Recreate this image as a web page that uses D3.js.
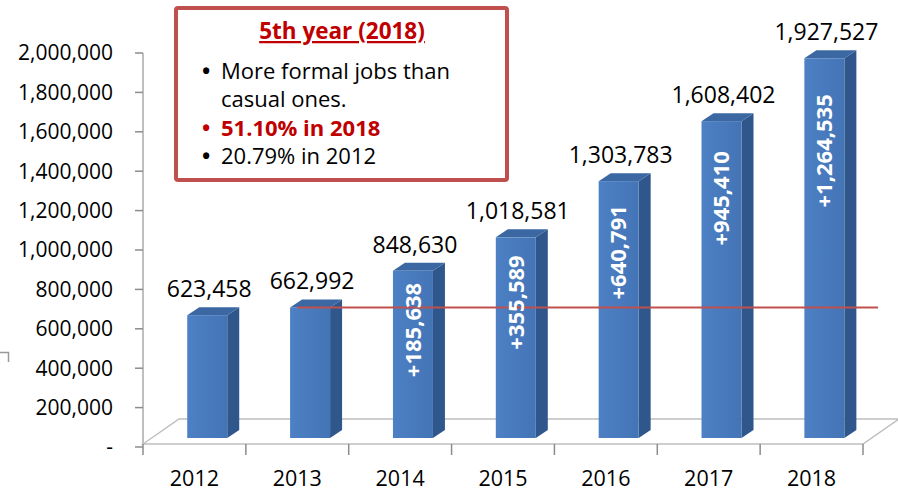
<!DOCTYPE html>
<html>
<head>
<meta charset="utf-8">
<script src="https://cdn.jsdelivr.net/npm/d3@7"></script>
<style>
  body { margin: 0; background: #fff; }
  svg { display: block; font-family: "Open Sans", "Liberation Sans", sans-serif; }
</style>
</head>
<body>
<svg id="chart" width="898" height="492"></svg>
<script>
var years = ["2012", "2013", "2014", "2015", "2016", "2017", "2018"];
var totals = [623458, 662992, 848630, 1018581, 1303783, 1608402, 1927527];
var increases = [null, null, 185638, 355589, 640791, 945410, 1264535];
var yTicks = [0, 200000, 400000, 600000, 800000, 1000000, 1200000, 1400000, 1600000, 1800000, 2000000];
var noteTitle = "5th year (2018)";
var noteLines = [
  { bullet: true, text: "More formal jobs than", bold: false, color: "#000" },
  { bullet: false, text: "casual ones.", bold: false, color: "#000" },
  { bullet: true, text: "51.10% in 2018", bold: true, color: "#c00000" },
  { bullet: true, text: "20.79% in 2012", bold: false, color: "#000" }
];

var svg = d3.select("#chart");
var fmt = d3.format(",");

var x = d3.scaleBand().domain(years).range([143, 863]).padding(0);
var y = d3.scaleLinear().domain([0, 2000000]).range([447, 53]);
var bw = x.bandwidth();

// 3d offsets
var lift = 9, depthX = 12, depthY = 8, frontW = 40;
var floorDX = 36, floorDY = 25;

var defs = svg.append("defs");
var grad = defs.append("linearGradient").attr("id", "front").attr("x1", 0).attr("x2", 1);
grad.append("stop").attr("offset", "0%").attr("stop-color", "#4d80c4");
grad.append("stop").attr("offset", "100%").attr("stop-color", "#4374b6");

// floor
var floorY = 444;
var floor = svg.append("g").attr("stroke", "#bfbfbf").attr("stroke-width", 1.5).attr("fill", "none");
floor.append("path").attr("d",
  "M" + x.range()[0] + "," + floorY +
  "L" + (x.range()[0] + floorDX) + "," + (floorY - floorDY) +
  "L" + (x.range()[1] + floorDX) + "," + (floorY - floorDY) +
  "L" + x.range()[1] + "," + floorY + "Z");

// category axis ticks
svg.append("g").selectAll("line")
  .data(years.concat(["end"]))
  .enter().append("line")
  .attr("x1", function (d, i) { return x.range()[0] + i * bw; })
  .attr("x2", function (d, i) { return x.range()[0] + i * bw; })
  .attr("y1", floorY).attr("y2", floorY + 11)
  .attr("stroke", "#8c8c8c").attr("stroke-width", 1.5);

// value axis
svg.append("line").attr("x1", 143).attr("x2", 143).attr("y1", y(2000000)).attr("y2", floorY)
  .attr("stroke", "#bfbfbf").attr("stroke-width", 2);
var yAxis = svg.append("g");
yAxis.selectAll("line").data(yTicks).enter().append("line")
  .attr("x1", 135).attr("x2", 143)
  .attr("y1", function (d) { return y(d); }).attr("y2", function (d) { return y(d); })
  .attr("stroke", "#8c8c8c").attr("stroke-width", 1.5);
yAxis.selectAll("text").data(yTicks).enter().append("text")
  .attr("x", 113).attr("y", function (d) { return y(d); })
  .attr("dy", "0.35em").attr("text-anchor", "end")
  .attr("font-size", 21).attr("fill", "#000")
  .text(function (d) { return d === 0 ? "-" : fmt(d); });

// category labels
svg.append("g").selectAll("text").data(years).enter().append("text")
  .attr("x", function (d) { return x(d) + bw / 2; })
  .attr("y", 485.5).attr("text-anchor", "middle")
  .attr("font-size", 21.5).attr("fill", "#000")
  .text(function (d) { return d; });

// bars
function fx(d) { return x(d) + bw * 0.43; }
var bars = svg.append("g").selectAll("g").data(years).enter().append("g");
bars.append("path") // side
  .attr("fill", "#2f578b")
  .attr("d", function (d, i) {
    var x0 = fx(d) + frontW, top = y(totals[i]) - lift, bot = y(0) - lift;
    return "M" + x0 + "," + top + "L" + (x0 + depthX) + "," + (top - depthY) +
      "L" + (x0 + depthX) + "," + (bot - depthY) + "L" + x0 + "," + bot + "Z";
  });
bars.append("path") // top
  .attr("fill", "#3b68a3")
  .attr("d", function (d, i) {
    var x0 = fx(d), top = y(totals[i]) - lift;
    return "M" + x0 + "," + top + "L" + (x0 + depthX) + "," + (top - depthY) +
      "L" + (x0 + frontW + depthX) + "," + (top - depthY) + "L" + (x0 + frontW) + "," + top + "Z";
  });
bars.append("rect") // front
  .attr("fill", "url(#front)")
  .attr("x", function (d) { return fx(d); })
  .attr("width", frontW)
  .attr("y", function (d, i) { return y(totals[i]) - lift; })
  .attr("height", function (d, i) { return y(0) - y(totals[i]); });

// reference line at 2013 level
svg.append("line")
  .attr("x1", x("2013") + bw * 0.5).attr("x2", x.range()[1] + 15)
  .attr("y1", y(totals[1]) - lift).attr("y2", y(totals[1]) - lift)
  .attr("stroke", "#c0504d").attr("stroke-width", 2);

// value labels
svg.append("g").selectAll("text").data(years).enter().append("text")
  .attr("x", function (d) { return fx(d) + frontW / 2 + 2; })
  .attr("y", function (d, i) { return y(totals[i]) - lift - 18; })
  .attr("text-anchor", "middle").attr("font-size", 23).attr("fill", "#000")
  .text(function (d, i) { return fmt(totals[i]); });

// increase labels inside bars
svg.append("g").selectAll("text").data(years.filter(function (d, i) { return increases[i] !== null; }))
  .enter().append("text")
  .attr("transform", function (d) {
    var i = years.indexOf(d);
    var tx = fx(d) + frontW / 2, ty = y(totals[i]) - lift + 12 + (i - 2) * 6;
    return "translate(" + tx + "," + ty + ") rotate(-90)";
  })
  .attr("dy", "0.35em").attr("text-anchor", "end")
  .attr("font-size", 22).attr("font-weight", "bold").attr("fill", "#fff")
  .text(function (d) { return "+" + fmt(increases[years.indexOf(d)]); });

// note box
var note = svg.append("g");
note.append("rect").attr("x", 176).attr("y", 8).attr("width", 331).attr("height", 172)
  .attr("rx", 2).attr("fill", "#fff").attr("stroke", "#c0504d").attr("stroke-width", 4);
note.append("text").attr("x", 342).attr("y", 39).attr("text-anchor", "middle")
  .attr("font-size", 22.5).attr("font-weight", "bold").attr("fill", "#c00000")
  .attr("text-decoration", "underline").text(noteTitle);
noteLines.forEach(function (l, i) {
  var by = 79 + i * 28.3;
  var line = note.append("text").attr("x", l.bullet ? 202 : 221).attr("y", by)
    .attr("font-size", 22).attr("fill", l.color);
  if (l.bullet) {
    line.append("tspan").attr("font-weight", "bold").text("\u2022");
  }
  line.append("tspan").attr("x", 221)
    .attr("font-weight", l.bold ? "bold" : "normal").text(l.text);
});

// stray corner mark at left edge
svg.append("path").attr("d", "M0,352.5H8.5V362").attr("fill", "none")
  .attr("stroke", "#9a9a9a").attr("stroke-width", 1.5);
</script>
</body>
</html>
